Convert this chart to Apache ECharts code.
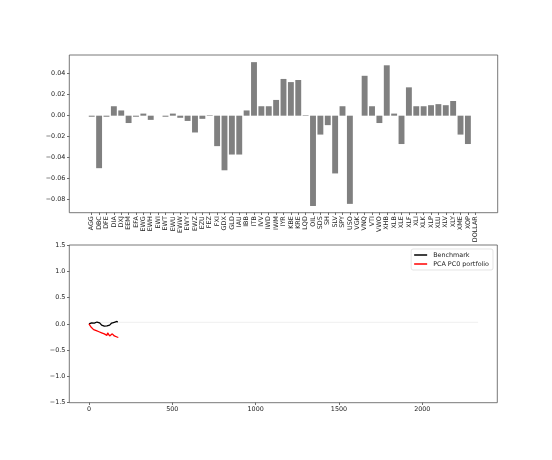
<!DOCTYPE html>
<html><head><meta charset="utf-8">
<script src="https://cdn.jsdelivr.net/npm/echarts@6/dist/echarts.min.js"></script>
<style>html,body{margin:0;padding:0;background:#fff}#c{width:552px;height:460px}</style>
</head><body><div id="c"></div>
<script>
const tickers = ['AGG','DBC','DFE','DIA','DXJ','EEM','EFA','EWG','EWH','EWI','EWT','EWU','EWW','EWY','EWZ','EZU','FEZ','FXI','GDX','GLD','IAU','IBB','ITB','IVV','IWD','IWM','IYR','KBE','KRE','LQD','OIL','SDS','SH','SLV','SPY','USO','VGK','VNQ','VTI','VWO','XHB','XLB','XLE','XLF','XLI','XLK','XLP','XLU','XLV','XLY','XME','XOP','DOLLAR'];
const weights = [-0.001,-0.050,-0.001,0.009,0.005,-0.007,-0.001,0.002,-0.004,0.0,-0.001,0.002,-0.002,-0.005,-0.016,-0.003,0.0005,-0.029,-0.052,-0.037,-0.037,0.005,0.051,0.009,0.009,0.015,0.035,0.032,0.034,0.0005,-0.086,-0.018,-0.009,-0.055,0.009,-0.084,0.0,0.038,0.009,-0.007,0.048,0.002,-0.027,0.027,0.009,0.009,0.010,0.011,0.010,0.014,-0.018,-0.027,0.0];
const topYTicks = [-0.08,-0.06,-0.04,-0.02,0,0.02,0.04];
const days = [0,4,8,12,16,20,24,28,32,36,40,44,48,52,56,60,64,68,72,76,80,84,88,92,96,100,104,108,112,116,120,124,128,132,136,140,144,148,152,156,160,164,168,172,176];
const benchmark = [0.00,0.02,0.01,0.03,0.02,0.045,0.02,0.04,0.015,0.035,0.01,0.025,0.035,0.015,0.025,0.01,0.02,-0.01,0.00,-0.025,-0.01,-0.05,-0.03,-0.045,-0.02,-0.035,-0.015,-0.04,-0.02,-0.035,-0.005,-0.025,0.005,-0.01,0.015,-0.005,0.02,0.005,0.03,0.015,0.04,0.025,0.045,0.03,0.03];
const pcaPortfolio = [0.00,-0.03,-0.02,-0.06,-0.05,-0.09,-0.08,-0.11,-0.09,-0.12,-0.10,-0.13,-0.11,-0.14,-0.12,-0.15,-0.13,-0.16,-0.14,-0.17,-0.15,-0.18,-0.16,-0.19,-0.18,-0.21,-0.19,-0.22,-0.17,-0.20,-0.19,-0.23,-0.20,-0.22,-0.24,-0.19,-0.21,-0.20,-0.23,-0.21,-0.24,-0.22,-0.25,-0.23,-0.26];
const faintX = [0, 2335];
const faintY = [0.03, 0.03];
const bottomXTicks = [0,500,1000,1500,2000];
const bottomYTicks = [-1.5,-1.0,-0.5,0,0.5,1.0,1.5];

const FONT = 'DejaVu Sans';
const fmtMinus = s => s.replace('-', '\u2212');
const chart = echarts.init(document.getElementById('c'));
const g0 = {left:69.3, top:55, width:428.4, height:157.7};
const g1 = {left:69.3, top:245, width:428.0, height:157.7};
const xmin0 = -3.04, xmax0 = 55.04;
const barW = g0.width / (xmax0 - xmin0) * 0.8;
const tickStyle = {show:true, length:2.3, lineStyle:{color:'#333', width:0.7}};
const labelStyle = {color:'#222', fontSize:6.4, fontFamily:FONT};
const noLine = {show:false, onZero:false};
chart.setOption({
  backgroundColor:'#fff',
  animation:false,
  grid:[
    Object.assign({show:true, borderColor:'#555', borderWidth:0.8, backgroundColor:'#fff'}, g0),
    Object.assign({show:true, borderColor:'#555', borderWidth:0.8, backgroundColor:'#fff'}, g1)
  ],
  legend:{
    right:59, top:249, orient:'vertical', itemGap:3,
    itemWidth:13, itemHeight:1.5, icon:'rect',
    padding:[3,4,3,3], borderColor:'#d8d8d8', borderWidth:0.7, borderRadius:2,
    backgroundColor:'#fff',
    textStyle:{fontSize:6.4, fontFamily:FONT, color:'#222', padding:[0,0,0,1]},
    data:['Benchmark','PCA PC0 portfolio']
  },
  xAxis:[
    {type:'value', gridIndex:0, min:xmin0, max:xmax0, splitLine:{show:false}, axisLine:noLine,
     axisTick:Object.assign({customValues:tickers.map((t,i)=>i)}, tickStyle),
     axisLabel:Object.assign({customValues:tickers.map((t,i)=>i), rotate:90, margin:3.5,
       formatter:v=>tickers[Math.round(v)]}, labelStyle)},
    {type:'value', gridIndex:1, min:-118, max:2450, splitLine:{show:false}, axisLine:noLine,
     axisTick:Object.assign({customValues:bottomXTicks}, tickStyle),
     axisLabel:Object.assign({customValues:bottomXTicks, margin:4, formatter:v=>String(v)}, labelStyle)}
  ],
  yAxis:[
    {type:'value', gridIndex:0, min:-0.0924, max:0.0578, splitLine:{show:false}, axisLine:noLine,
     axisTick:Object.assign({customValues:topYTicks}, tickStyle),
     axisLabel:Object.assign({customValues:topYTicks, margin:4, formatter:v=>fmtMinus(v.toFixed(2))}, labelStyle)},
    {type:'value', gridIndex:1, min:-1.5, max:1.5, splitLine:{show:false}, axisLine:noLine,
     axisTick:Object.assign({customValues:bottomYTicks}, tickStyle),
     axisLabel:Object.assign({customValues:bottomYTicks, margin:4, formatter:v=>fmtMinus(v.toFixed(1))}, labelStyle)}
  ],
  series:[
    {type:'bar', xAxisIndex:0, yAxisIndex:0, barWidth:barW,
     itemStyle:{color:'#808080'},
     data:weights.map((w,i)=>[i,w])},
    {type:'line', name:'faint', xAxisIndex:1, yAxisIndex:1, symbol:'none', silent:true,
     lineStyle:{color:'#efefef', width:1}, data:faintX.map((x,i)=>[x,faintY[i]]), z:1},
    {type:'line', name:'Benchmark', xAxisIndex:1, yAxisIndex:1, symbol:'none',
     itemStyle:{color:'#000'}, lineStyle:{color:'#000', width:1.3},
     data:days.map((d,i)=>[d,benchmark[i]]), z:3},
    {type:'line', name:'PCA PC0 portfolio', xAxisIndex:1, yAxisIndex:1, symbol:'none',
     itemStyle:{color:'#ff0000'}, lineStyle:{color:'#ff0000', width:1.3},
     data:days.map((d,i)=>[d,pcaPortfolio[i]]), z:4}
  ]
});
</script></body></html>
